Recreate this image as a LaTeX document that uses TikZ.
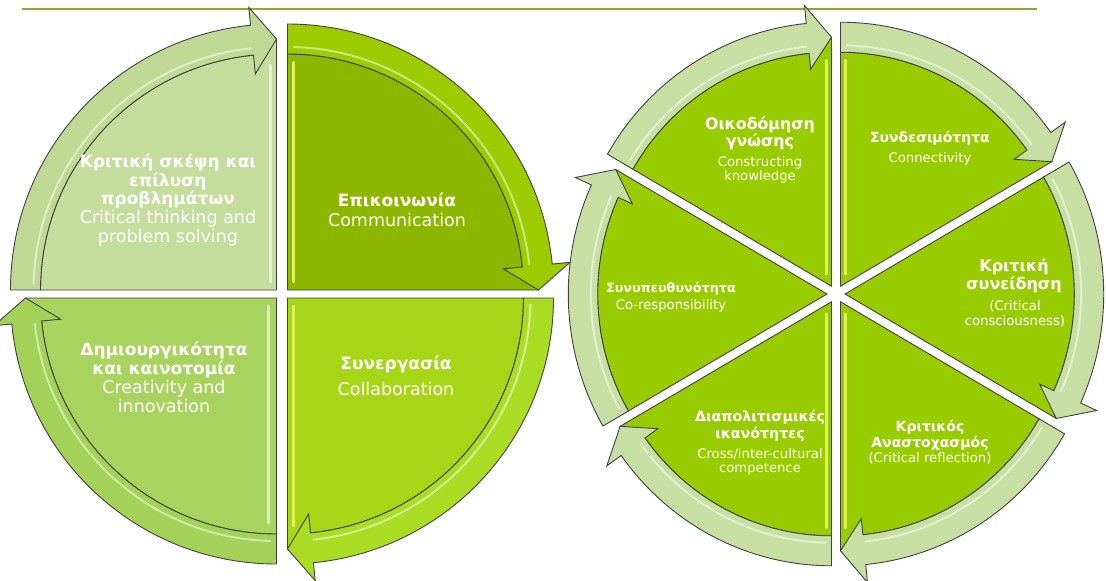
\documentclass[tikz,border=0pt]{standalone}
\usepackage{fontspec}
\setmainfont{DejaVu Sans}
\usetikzlibrary{calc}
\definecolor{topline}{HTML}{A0A030}
\definecolor{outlc}{HTML}{404040}
\definecolor{tlsec}{HTML}{C4DC9C}
\definecolor{tlband}{HTML}{BFD994}
\definecolor{trsec}{HTML}{8CB600}
\definecolor{trband}{HTML}{9CCC00}
\definecolor{brsec}{HTML}{A6D616}
\definecolor{brband}{HTML}{AADC24}
\definecolor{blsec}{HTML}{A8D35E}
\definecolor{blband}{HTML}{A4D258}
\definecolor{rsec}{HTML}{99CC00}
\definecolor{rband}{HTML}{C7DFA3}
\definecolor{stripy}{HTML}{E2F25A}
\tikzset{
  outl/.style={draw=outlc,line width=0.9},
  txt/.style={text=white,align=center,inner sep=0pt},
  stripw/.style={white,opacity=0.6,line width=2.5,line cap=round},
  stripyel/.style={stripy,line width=2.5,line cap=round},
  gloss/.style={white,opacity=0.5,line width=2,line cap=round},
}
% #1 cx, #2 cy, #3 a1 (ccw end), #4 a2 (head end), #5 shift, #6 sector colour,
% #7 band colour, #8 extra drawing, #9 xscale
\newcommand\DrawSlice[9]{%
  \begin{scope}[shift={(#1,-#2)},shift={#5},xscale=#9]
    \draw[outl,fill=#6] (0,0) -- (#3:\rin)
      arc[start angle=#3,end angle={#4+\hd},radius=\rin]
      -- (#4:{(\rin+\rout)/2}) -- cycle;
    #8
    \draw[outl,fill=#7] (#3:\rin)
      arc[start angle=#3,end angle={#4+\hd},radius=\rin]
      -- ({#4+\hd}:{\rin-\ei}) -- (#4:{(\rin+\rout)/2})
      -- ({#4+\hd}:{\rout+\eo}) -- ({#4+\hd}:\rout)
      arc[start angle={#4+\hd},end angle=#3,radius=\rout] -- cycle;
    \draw[gloss] ({#3-1.5}:{\rin+7})
      arc[start angle={#3-1.5},end angle={#4+\hd+0.5},radius={\rin+7}];
  \end{scope}}
\begin{document}
\begin{tikzpicture}[x=1pt,y=1pt]
\useasboundingbox (0,0) rectangle (1106,-581);
\draw[topline,line width=2] (22,-9) -- (1037,-9);

% ---------- left diagram ----------
\def\rin{236}\def\rout{266}\def\hd{5.6}\def\eo{18}\def\ei{19}
\DrawSlice{282}{294}{180}{90}{(-5.5,4)}{tlsec}{tlband}{\draw[stripw] (-6,8) -- (-6,225);}{1}
\DrawSlice{282}{294}{90}{0}{(5.5,4)}{trsec}{trband}{\draw[stripyel] (6,8) -- (6,228);}{1}
\DrawSlice{282}{294}{0}{-90}{(5.5,-4)}{brsec}{brband}{\draw[stripyel] (6,-8) -- (6,-228);}{1}
\DrawSlice{282}{294}{270}{180}{(-5.5,-4)}{blsec}{blband}{\draw[stripw] (-8,-8) -- (-8,-225);}{1}

\node[txt,font=\fontsize{17.5}{18.6}\selectfont] (ct) at (168,-200)
  {{\fontsize{17}{18.6}\selectfont\bfseries Κριτική σκέψη και}\\{\fontsize{17}{18.6}\selectfont\bfseries επίλυση}\\{\fontsize{17}{18.6}\selectfont\bfseries προβλημάτων}\\Critical thinking and\\problem solving};
\node[txt,font=\fontsize{17.5}{20}\selectfont] (com) at (397,-210)
  {{\fontsize{17}{20}\selectfont\bfseries Επικοινωνία}\\Communication};
\node[txt,font=\fontsize{17.5}{19}\selectfont] (cre) at (164,-377)
  {{\fontsize{17}{19}\selectfont\bfseries Δημιουργικότητα}\\{\fontsize{17}{19}\selectfont\bfseries και καινοτομία}\\Creativity and\\innovation};
\node[txt,font=\fontsize{17.5}{26}\selectfont] (col) at (396,-376)
  {{\fontsize{17}{26}\selectfont\bfseries Συνεργασία}\\Collaboration};

% ---------- right diagram ----------
\def\rin{234}\def\rout{264}\def\hd{5.6}\def\eo{18}\def\ei{16}
\DrawSlice{836}{294}{150}{90}{(120:9)}{rsec}{rband}{\draw[stripyel] (-5,12) -- (-5,226);}{0.98}
\DrawSlice{836}{294}{90}{30}{(60:9)}{rsec}{rband}{\draw[stripyel] (5,12) -- (5,226);}{0.98}
\DrawSlice{836}{294}{30}{-30}{(0:9)}{rsec}{rband}{}{0.98}
\DrawSlice{836}{294}{-30}{-90}{(-60:9)}{rsec}{rband}{\draw[stripyel] (5,-12) -- (5,-226);}{0.98}
\DrawSlice{836}{294}{-90}{-150}{(-120:9)}{rsec}{rband}{\draw[stripyel] (-5,-12) -- (-5,-226);}{0.98}
\DrawSlice{836}{294}{210}{150}{(180:9)}{rsec}{rband}{}{0.98}

\node[txt,font=\bfseries\fontsize{15.8}{17}\selectfont] (g1) at (760,-133.5) {Οικοδόμηση\\γνώσης};
\node[txt,font=\fontsize{13.2}{14}\selectfont] (e1) at (760,-170) {Constructing\\knowledge};
\node[txt,font=\bfseries\fontsize{14}{17}\selectfont] (g2) at (930,-138) {Συνδεσιμότητα};
\node[txt,font=\fontsize{13.2}{14}\selectfont] (e2) at (930,-159) {Connectivity};
\node[txt,font=\bfseries\fontsize{16}{18}\selectfont] (g3) at (1014,-276) {Κριτική\\συνείδηση};
\node[txt,font=\fontsize{13.2}{14.5}\selectfont] (e3) at (1015,-314) {(Critical\\consciousness)};
\node[txt,font=\bfseries\fontsize{12.8}{15}\selectfont] (g4) at (671,-289) {Συνυπευθυνότητα};
\node[txt,font=\fontsize{13.2}{14}\selectfont] (e4) at (671,-306) {Co-responsibility};
\node[txt,font=\bfseries\fontsize{14.2}{17}\selectfont] (g5) at (760,-425.5) {Διαπολιτισμικές\\ικανότητες};
\node[txt,font=\fontsize{13.2}{13.8}\selectfont] (e5) at (760,-461.5) {Cross/inter-cultural\\competence};
\node[txt,font=\bfseries\fontsize{14}{15.5}\selectfont] (g6) at (930,-435.5) {Κριτικός\\Αναστοχασμός};
\node[txt,font=\fontsize{13.2}{14}\selectfont] (e6) at (930,-458.5) {(Critical reflection)};
\end{tikzpicture}
\end{document}
